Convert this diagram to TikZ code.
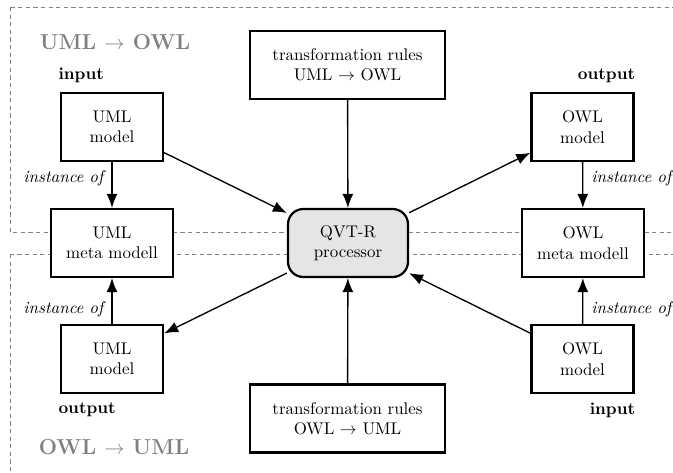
\documentclass[tikz,border=0pt]{standalone}
\usetikzlibrary{arrows.meta}
\begin{document}
\begin{tikzpicture}[x=0.5917pt,y=-0.5917pt,
  box/.style={draw,line width=1.3pt,fill=white,align=center,inner sep=2pt,
    minimum height=40.2pt},
  modelbox/.style={box,minimum width=60.4pt},
  metabox/.style={box,minimum width=72.2pt},
  rulebox/.style={box,minimum width=115.4pt},
  procbox/.style={box,rounded corners=9pt,fill=black!10,minimum width=71pt},
  arr/.style={line width=0.8pt,-{Latex[length=8.3pt,width=6.5pt]}},
  region/.style={draw=black!50,line width=0.5pt,dash pattern=on 2.5pt off 2pt},
  heading/.style={text=black!50,font=\fontsize{12.8}{15}\selectfont\bfseries},
  role/.style={font=\bfseries,inner sep=0pt},
  inst/.style={font=\itshape}]
\useasboundingbox (0,0) rectangle (673,473);
\clip (0,0) rectangle (673,473);

% the two transformation directions
\draw[region] (10,7) rectangle (700,232);
\draw[region] (10,254) rectangle (700,490);
\node[heading] (h1) at (115,42) {UML $\rightarrow$ OWL};
\node[heading] (h2) at (114,447) {OWL $\rightarrow$ UML};

% models and meta models
\node[modelbox] (umlin) at (112,127) {UML\\model};
\node[metabox] (umlmeta) at (112,243) {UML\\meta modell};
\node[modelbox] (umlout) at (112,359) {UML\\model};
\node[modelbox] (owlout) at (582.5,127) {OWL\\model};
\node[metabox] (owlmeta) at (583,243) {OWL\\meta modell};
\node[modelbox] (owlin) at (582.5,359) {OWL\\model};

% rules and processor
\node[rulebox] (r1) at (347.5,65) {transformation rules\\UML $\rightarrow$ OWL};
\node[procbox] (qvt) at (348,243) {QVT-R\\processor};
\node[rulebox] (r2) at (347.5,418.5) {transformation rules\\OWL $\rightarrow$ UML};

% roles
\node[role,anchor=south west] (l1) at ([xshift=-1pt,yshift=5pt]umlin.north west) {input};
\node[role,anchor=south east] (l2) at ([xshift=0.5pt,yshift=5pt]owlout.north east) {output};
\node[role,anchor=north west] (l3) at ([xshift=-1pt,yshift=-5pt]umlout.south west) {output};
\node[role,anchor=north east] (l4) at ([xshift=0.5pt,yshift=-5pt]owlin.south east) {input};

% connectors
\draw[arr] (umlin) -- node[inst,left=1.4pt,pos=0.35] {instance of} (umlmeta);
\draw[arr] (umlout) -- node[inst,left=1.4pt,pos=0.33] {instance of} (umlmeta);
\draw[arr] (owlout) -- node[inst,right=1.4pt,pos=0.35] {instance of} (owlmeta);
\draw[arr] (owlin) -- node[inst,right=1.4pt,pos=0.33] {instance of} (owlmeta);
\draw[arr] (r1) -- (qvt);
\draw[arr] (r2) -- (qvt);
\draw[arr] (umlin) -- (qvt);
\draw[arr] (qvt) -- (owlout);
\draw[arr] (owlin) -- (qvt);
\draw[arr] (qvt) -- (umlout);
\end{tikzpicture}
\end{document}
